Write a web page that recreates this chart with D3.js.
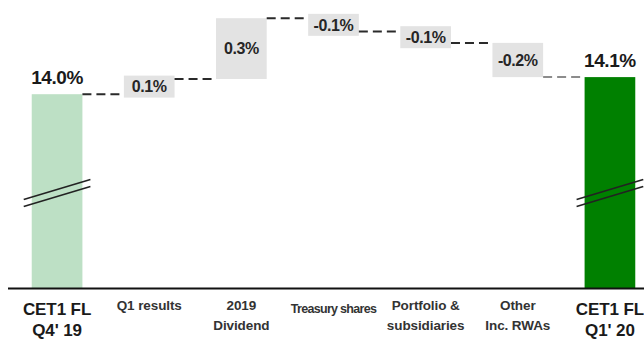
<!DOCTYPE html>
<html>
<head>
<meta charset="utf-8">
<script src="https://cdn.jsdelivr.net/npm/d3@7/dist/d3.min.js"></script>
<style>
  html, body { margin: 0; padding: 0; background: #fff; }
  svg { display: block; font-family: "Liberation Sans", Arial, sans-serif; }
</style>
</head>
<body>
<svg id="chart" width="644" height="340"></svg>
<script>
// CET1 fully-loaded ratio bridge, Q4'19 -> Q1'20 (%)
const categories = ["q419", "q1res", "div", "treas", "port", "other", "q120"];
const categoryLabels = [
  ["CET1 FL", "Q4' 19"],
  ["Q1 results"],
  ["2019", "Dividend"],
  ["Treasury shares"],
  ["Portfolio &", "subsidiaries", "valuation"],
  ["Other", "Inc. RWAs"],
  ["CET1 FL", "Q1' 20"]
];
const startValue = 14.02;
const stepValues = [0.08, 0.32, -0.07, -0.06, -0.18];
const endValue = 14.11;

const svg = d3.select("#chart");
const width = 644;
const baseY = 288;

const x = d3.scaleBand()
  .domain(categories)
  .range([11, 656])
  .paddingInner(0.45)
  .paddingOuter(0.225);

// Broken value axis: the bars start at the baseline, the scale starts at 13%
const y = d3.scaleLinear().domain([13.0, 14.5]).range([baseY, 3]);

// Plain hyphen for negatives
const locale = d3.formatLocale({
  decimal: ".", thousands: ",", grouping: [3], currency: ["", ""], minus: "-"
});
const fmtPct = v => locale.format(".1f")(v) + "%";

// Running levels for the floating steps
const levels = [startValue];
stepValues.forEach(v => levels.push(levels[levels.length - 1] + v));

const steps = stepValues.map((v, i) => ({
  cat: categories[i + 1],
  from: levels[i],
  to: levels[i + 1],
  value: v
}));

const totals = [
  { cat: categories[0], value: startValue, fill: "#bde0c5" },
  { cat: categories[6], value: endValue, fill: "#008000" }
];

// Total bars
svg.selectAll("rect.total")
  .data(totals)
  .join("rect")
  .attr("class", "total")
  .attr("x", d => x(d.cat))
  .attr("width", x.bandwidth())
  .attr("y", d => y(d.value))
  .attr("height", d => baseY - y(d.value))
  .attr("fill", d => d.fill);

// Floating step boxes (kept tall enough for their label)
const minBox = 22;
const boxSpan = d => {
  const a = y(Math.max(d.from, d.to)), b = y(Math.min(d.from, d.to));
  const h = Math.max(b - a, minBox);
  return { top: (a + b) / 2 - h / 2, h };
};
const stepG = svg.selectAll("g.step")
  .data(steps)
  .join("g")
  .attr("class", "step");

stepG.append("rect")
  .attr("x", d => x(d.cat))
  .attr("width", x.bandwidth())
  .attr("y", d => boxSpan(d).top)
  .attr("height", d => boxSpan(d).h)
  .attr("fill", "#e3e3e3");

stepG.append("text")
  .attr("x", d => x(d.cat) + x.bandwidth() / 2)
  .attr("y", d => (y(d.from) + y(d.to)) / 2)
  .attr("dy", "0.36em")
  .attr("text-anchor", "middle")
  .attr("font-size", 16)
  .attr("font-weight", "bold")
  .attr("letter-spacing", -0.4)
  .attr("fill", "#262626")
  .text(d => fmtPct(d.value));

// Dashed connectors between consecutive bars
const connectors = levels.map((lv, i) => ({
  x1: x(categories[i]) + x.bandwidth(),
  x2: x(categories[i + 1]),
  level: lv,
  last: i === levels.length - 1
}));
svg.selectAll("line.conn")
  .data(connectors)
  .join("line")
  .attr("class", "conn")
  .attr("x1", d => d.x1)
  .attr("x2", d => d.x2)
  .attr("y1", d => y(d.level))
  .attr("y2", d => y(d.level))
  .attr("stroke", d => d.last ? "#8c8c8c" : "#2a2a2a")
  .attr("stroke-width", 2)
  .attr("stroke-dasharray", "9,5");

// Total labels
svg.selectAll("text.totalLabel")
  .data(totals)
  .join("text")
  .attr("class", "totalLabel")
  .attr("x", d => x(d.cat) + x.bandwidth() / 2)
  .attr("y", d => y(d.value) - 10)
  .attr("text-anchor", "middle")
  .attr("font-size", 19)
  .attr("font-weight", "bold")
  .attr("letter-spacing", -0.4)
  .attr("fill", "#1a1a1a")
  .text(d => fmtPct(d.value));

// Axis break marks on the total bars
const breakY = y(13.5);
totals.forEach(d => {
  const x0 = x(d.cat) - 8, x1 = x(d.cat) + x.bandwidth() + 8;
  [-3.5, 3.5].forEach(off => {
    svg.append("line")
      .attr("x1", x0).attr("y1", breakY + off + 10)
      .attr("x2", x1).attr("y2", breakY + off - 10)
      .attr("stroke", "#222")
      .attr("stroke-width", 1.6);
  });
});

// Baseline
svg.append("line")
  .attr("x1", 8).attr("x2", width)
  .attr("y1", baseY + 0.5).attr("y2", baseY + 0.5)
  .attr("stroke", "#111")
  .attr("stroke-width", 2);

// Category labels
const catG = svg.selectAll("g.cat")
  .data(categories)
  .join("g")
  .attr("class", "cat")
  .attr("transform", d => `translate(${x(d) + x.bandwidth() / 2},0)`);

catG.each(function (d, i) {
  const big = i === 0 || i === categories.length - 1;
  const g = d3.select(this);
  categoryLabels[i].forEach((t, j) => {
    g.append("text")
      .attr("text-anchor", "middle")
      .attr("y", big ? 315 + j * 21 : (d === "treas" ? 313 : 310 + j * 19.5))
      .attr("font-size", big ? 17 : (d === "treas" ? 12.5 : 13.5))
      .attr("font-weight", "bold")
      .attr("letter-spacing", d === "treas" ? -0.7 : -0.1)
      .attr("fill", big ? "#1a1a1a" : "#333")
      .text(t);
  });
});
</script>
</body>
</html>
